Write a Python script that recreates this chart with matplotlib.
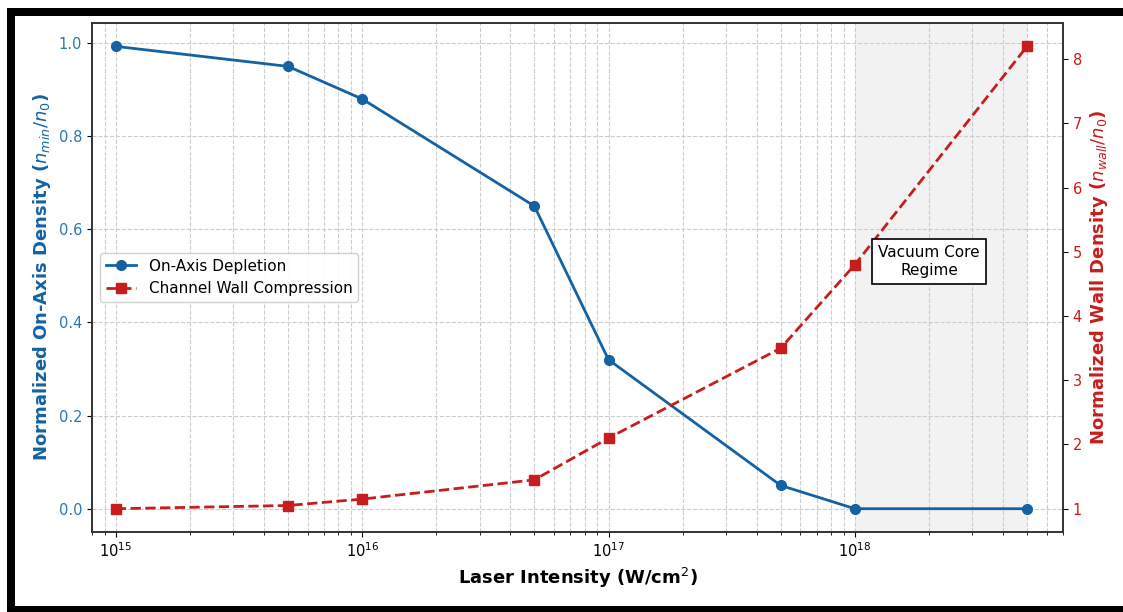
import numpy as np
import matplotlib.pyplot as plt
from matplotlib.patches import Rectangle

# Data
intensity = [1e15, 5e15, 1e16, 5e16, 1e17, 5e17, 1e18, 5e18]
on_axis = [0.993, 0.95, 0.88, 0.65, 0.32, 0.05, 0.0, 0.0]
wall = [1.0, 1.05, 1.15, 1.45, 2.1, 3.5, 4.8, 8.2]
regime_start, regime_end = 1e18, 5e18

blue = '#1462a3'
red = '#c81d1d'

fig = plt.figure(figsize=(11.23, 6.12), dpi=100)
ax1 = fig.add_axes([0.0819, 0.131, 0.9466 - 0.0819, 0.962 - 0.131])
ax2 = ax1.twinx()

# shaded regime
ax1.axvspan(regime_start, regime_end, color='gray', alpha=0.1, lw=0, zorder=0)

l1, = ax1.plot(intensity, on_axis, '-o', color=blue, lw=2, ms=7,
               label='On-Axis Depletion', zorder=3)
l2, = ax2.plot(intensity, wall, '--s', color=red, lw=2, ms=6.5,
               label='Channel Wall Compression', zorder=3)

ax1.set_xscale('log')
ax1.set_xlim(8e14, 7e18)

ax1.grid(True, which='major', axis='both', ls='--', color='#cccccc', lw=0.8)
ax1.grid(True, which='minor', axis='x', ls='--', color='#cccccc', lw=0.8)

ax1.set_xlabel('Laser Intensity (W/cm$^2$)', fontsize=13, fontweight='bold')
ax1.set_ylabel('Normalized On-Axis Density ($n_{min}/n_0$)', fontsize=13,
               fontweight='bold', color=blue)
ax2.set_ylabel('Normalized Wall Density ($n_{wall}/n_0$)', fontsize=13,
               fontweight='bold', color=red)

ax1.tick_params(axis='y', labelcolor='#2a78b0', labelsize=10.5)
ax1.tick_params(axis='x', labelsize=10.5)
ax2.tick_params(axis='y', labelcolor=red, labelsize=10.5)

for ax in (ax1, ax2):
    for s in ax.spines.values():
        s.set_color('#333333')
        s.set_linewidth(1.2)

ax1.legend([l1, l2], [l1.get_label(), l2.get_label()], loc='center left',
           fontsize=11, framealpha=0.9)

ax2.text(2.0e18, 4.85, 'Vacuum Core\nRegime', ha='center', va='center',
         fontsize=11, zorder=5,
         bbox=dict(boxstyle='square,pad=0.4', facecolor='white',
                   edgecolor='black', lw=1.2))

# black frame around the screenshot (pixel boxes: x, top row, width, height)
W, H = 1123, 612
for x0, top, w, h in [(7, 8, 1116, 8), (7, 8, 8, 604), (7, 606, 1116, 6)]:
    fig.add_artist(Rectangle((x0 / W, (H - top - h) / H), w / W, h / H,
                             transform=fig.transFigure, color='black', lw=0))

fig.savefig('out.png', dpi=100)
